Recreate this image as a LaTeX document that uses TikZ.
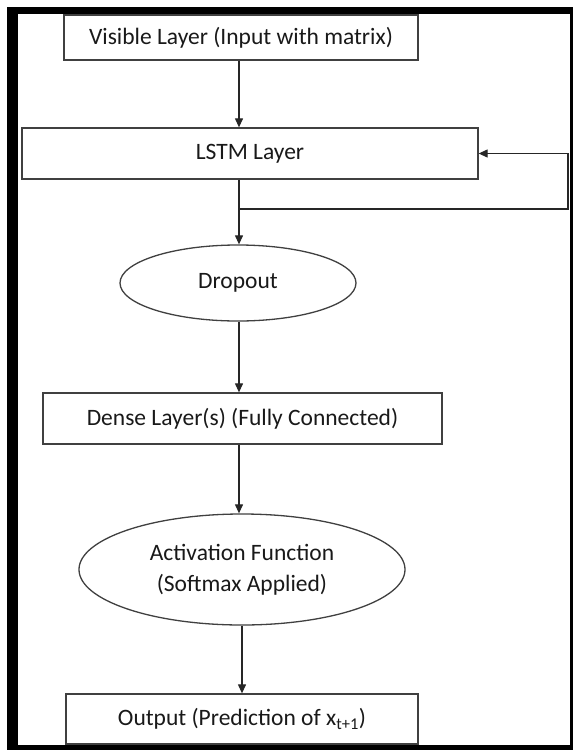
\documentclass[tikz,border=0pt]{standalone}
\usepackage{fontspec}
\setmainfont{Carlito}
\usepackage{tikz}
\usetikzlibrary{shapes.geometric, arrows.meta, calc}

\begin{document}
\begin{tikzpicture}[x=1pt, y=-1pt,
        font=\fontsize{23.5}{31}\selectfont, text=black!90,
        layerbox/.style={draw=black!75, line width=1.3pt, rectangle, inner sep=0pt, fill=white},
        layeroval/.style={draw=black!75, line width=1.3pt, ellipse, inner sep=0pt, align=center, fill=white},
        flow/.style={draw=black!85, line width=1.2pt, -{Triangle[length=9pt, width=8pt]}}]
    \useasboundingbox (0,0) rectangle (573,750);
    % frame round the figure
    \fill[black] (7,7) rectangle (18,750);
    \fill[black] (7,7) rectangle (573,14);
    \fill[black] (570,7) rectangle (573,750);
    \fill[black] (7,745) rectangle (573,750);

    \node[layerbox, minimum width=354pt, minimum height=45pt] (visible) at (241,37.5) {Visible Layer (Input with matrix)};
    \node[layerbox, minimum width=456pt, minimum height=51pt] (lstm) at (250,153.5) {LSTM Layer};
    \node[layeroval, minimum width=236pt, minimum height=76pt] (dropout) at (238,283) {Dropout};
    \node[layerbox, minimum width=399pt, minimum height=51pt] (dense) at (242.5,418.5) {Dense Layer(s) (Fully Connected)};
    \node[layeroval, minimum width=326pt, minimum height=111pt] (activation) at (242,569.5) {Activation Function\\(Softmax Applied)};
    \node[layerbox, minimum width=352pt, minimum height=50pt] (output) at (242,719) {Output (Prediction of x\textsubscript{t+1})};

    \coordinate (split) at (239,209);
    \coordinate (loop) at (568,209);

    \draw[flow] (visible.south -| split) -- (lstm.north -| split);
    \draw[flow] (lstm.south -| split) -- (dropout.north -| split);
    \draw[flow] (split) -- (loop) |- (lstm.east);
    \draw[flow] (dropout.south -| split) -- (dense.north -| split);
    \draw[flow] (dense.south -| split) -- (activation.north -| split);
    \draw[flow] (activation.south) -- (activation.south |- output.north);
\end{tikzpicture}
\end{document}
